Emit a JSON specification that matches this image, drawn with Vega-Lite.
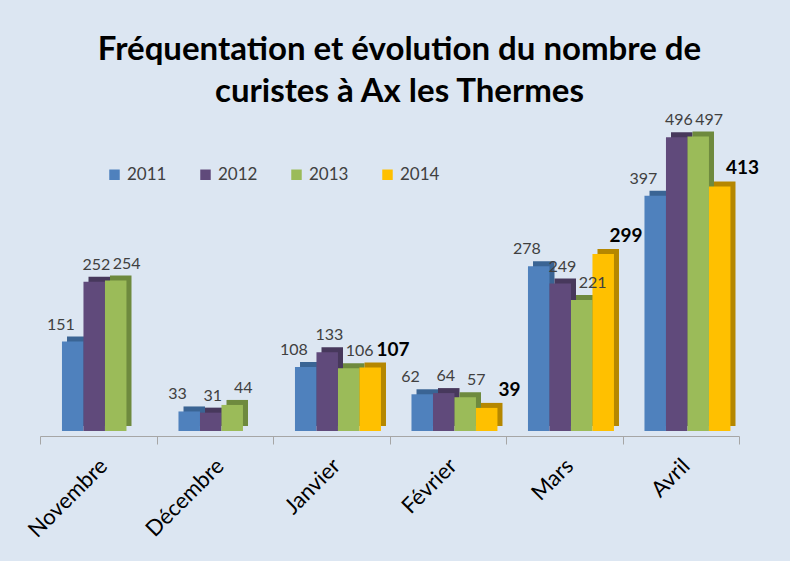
{
  "$schema": "https://vega.github.io/schema/vega-lite/v6.json",
  "width": 699,
  "height": 308,
  "autosize": "none",
  "padding": {"left": 40, "top": 123, "right": 51, "bottom": 130},
  "background": "#DCE6F2",
  "title": {
    "text": ["Fréquentation et évolution du nombre de", "curistes à Ax les Thermes"],
    "font": "Lato",
    "fontSize": 33,
    "fontWeight": "bold",
    "color": "#000000",
    "lineHeight": 42,
    "anchor": "middle",
    "offset": 3,
    "dx": 10
  },
  "data": {
    "values": [
      {"mois": "Novembre", "annee": "2011", "valeur": 151},
      {"mois": "Novembre", "annee": "2012", "valeur": 252},
      {"mois": "Novembre", "annee": "2013", "valeur": 254},
      {"mois": "Décembre", "annee": "2011", "valeur": 33},
      {"mois": "Décembre", "annee": "2012", "valeur": 31},
      {"mois": "Décembre", "annee": "2013", "valeur": 44},
      {"mois": "Janvier", "annee": "2011", "valeur": 108},
      {"mois": "Janvier", "annee": "2012", "valeur": 133},
      {"mois": "Janvier", "annee": "2013", "valeur": 106},
      {"mois": "Janvier", "annee": "2014", "valeur": 107},
      {"mois": "Février", "annee": "2011", "valeur": 62},
      {"mois": "Février", "annee": "2012", "valeur": 64},
      {"mois": "Février", "annee": "2013", "valeur": 57},
      {"mois": "Février", "annee": "2014", "valeur": 39},
      {"mois": "Mars", "annee": "2011", "valeur": 278},
      {"mois": "Mars", "annee": "2012", "valeur": 249},
      {"mois": "Mars", "annee": "2013", "valeur": 221},
      {"mois": "Mars", "annee": "2014", "valeur": 299},
      {"mois": "Avril", "annee": "2011", "valeur": 397},
      {"mois": "Avril", "annee": "2012", "valeur": 496},
      {"mois": "Avril", "annee": "2013", "valeur": 497},
      {"mois": "Avril", "annee": "2014", "valeur": 413}
    ]
  },
  "encoding": {
    "x": {
      "field": "mois",
      "type": "nominal",
      "sort": ["Novembre", "Décembre", "Janvier", "Février", "Mars", "Avril"],
      "scale": {"paddingInner": 0, "paddingOuter": 0},
      "title": null,
      "axis": {
        "labelAngle": -45,
        "labelAlign": "right",
        "labelBaseline": "middle",
        "labelFont": "Lato",
        "labelFontSize": 22,
        "labelColor": "#000000",
        "labelPadding": 18,
        "labelOffset": 5,
        "domainColor": "#A6A6A6",
        "tickColor": "#A6A6A6",
        "tickBand": "extent",
        "tickSize": 8,
        "offset": 5,
        "grid": false
      }
    },
    "y": {
      "field": "valeur",
      "type": "quantitative",
      "scale": {"domain": [0, 520]},
      "axis": null
    }
  },
  "layer": [
    {
      "mark": {"type": "bar", "yOffset": -5},
      "encoding": {
        "xOffset": {"field": "annee", "type": "nominal", "scale": {"domain": ["2011", "2012", "2013", "2014"], "paddingInner": 0, "paddingOuter": 0.71, "align": 0.885}},
        "color": {
          "field": "annee",
          "type": "nominal",
          "scale": {"domain": ["2011", "2012", "2013", "2014"], "range": ["#3A6494", "#47385C", "#6E8A3E", "#B58700"]},
          "legend": null
        }
      }
    },
    {
      "mark": {"type": "bar"},
      "encoding": {
        "xOffset": {"field": "annee", "type": "nominal", "scale": {"domain": ["2011", "2012", "2013", "2014"], "paddingInner": 0, "paddingOuter": 0.71, "align": 0.72}},
        "color": {
          "field": "annee",
          "type": "nominal",
          "scale": {"domain": ["2011", "2012", "2013", "2014"], "range": ["#4F81BD", "#604A7B", "#9BBB59", "#FFC000"]},
          "legend": {
            "orient": "none",
            "legendX": 66,
            "legendY": 43,
            "direction": "horizontal",
            "title": null,
            "symbolType": "square",
            "symbolSize": 110,
            "symbolStrokeWidth": 0,
            "labelFont": "Lato",
            "labelFontSize": 17,
            "labelColor": "#404040",
            "columnPadding": 30
          }
        }
      }
    },
    {
      "transform": [{"filter": "datum.annee == '2011'"}],
      "mark": {"type": "text", "baseline": "alphabetic", "dy": -12, "dx": -6, "font": "Lato", "fontSize": 16, "color": "#404040"},
      "encoding": {
        "xOffset": {"field": "annee", "type": "nominal", "scale": {"domain": ["2011", "2012", "2013", "2014"], "paddingInner": 0, "paddingOuter": 0.71, "align": 0.72}},
        "text": {"field": "valeur", "type": "quantitative"}
      }
    },
    {
      "transform": [{"filter": "datum.annee == '2012'"}],
      "mark": {"type": "text", "baseline": "alphabetic", "dy": -12, "dx": 3, "font": "Lato", "fontSize": 16, "color": "#404040"},
      "encoding": {
        "xOffset": {"field": "annee", "type": "nominal", "scale": {"domain": ["2011", "2012", "2013", "2014"], "paddingInner": 0, "paddingOuter": 0.71, "align": 0.72}},
        "text": {"field": "valeur", "type": "quantitative"}
      }
    },
    {
      "transform": [{"filter": "datum.annee == '2013'"}],
      "mark": {"type": "text", "baseline": "alphabetic", "dy": -12, "dx": 7, "font": "Lato", "fontSize": 16, "color": "#404040"},
      "encoding": {
        "xOffset": {"field": "annee", "type": "nominal", "scale": {"domain": ["2011", "2012", "2013", "2014"], "paddingInner": 0, "paddingOuter": 0.71, "align": 0.72}},
        "text": {"field": "valeur", "type": "quantitative"}
      }
    },
    {
      "transform": [{"filter": "datum.annee == '2014'"}],
      "mark": {"type": "text", "baseline": "alphabetic", "dy": -12, "dx": 14, "font": "Lato", "fontSize": 19, "fontWeight": "bold", "color": "#000000"},
      "encoding": {
        "xOffset": {"field": "annee", "type": "nominal", "scale": {"domain": ["2011", "2012", "2013", "2014"], "paddingInner": 0, "paddingOuter": 0.71, "align": 0.72}},
        "text": {"field": "valeur", "type": "quantitative"}
      }
    }
  ],
  "resolve": {"scale": {"color": "independent", "xOffset": "independent"}},
  "config": {"view": {"stroke": null}}
}
